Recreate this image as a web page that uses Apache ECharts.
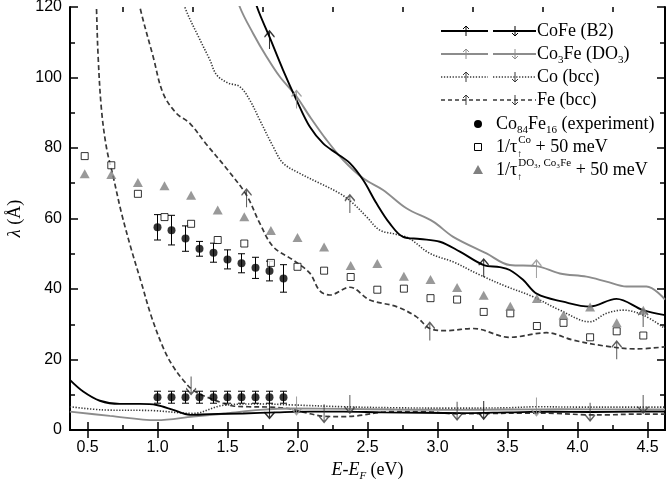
<!DOCTYPE html>
<html><head><meta charset="utf-8">
<script src="https://cdn.jsdelivr.net/npm/echarts@6/dist/echarts.min.js"></script>
<style>html,body{margin:0;padding:0;background:#fff}#c{width:666px;height:485px}</style>
</head><body><div id="c"></div>
<script>
// ---------- tick labels ----------
const xMajor = [0.5, 1.0, 1.5, 2.0, 2.5, 3.0, 3.5, 4.0, 4.5];
const xMinor = [0.75, 1.25, 1.75, 2.25, 2.75, 3.25, 3.75, 4.25];

// ---------- theory curves [E-EF (eV), lambda (A)] ----------
const cofeUp = [[1.69,124],[1.711,120],[1.80,111.5],[1.897,102.1],[1.993,93.6],[2.088,86.0],[2.183,81.3],[2.278,78.5],[2.374,75.7],[2.469,70.9],[2.564,64.3],[2.659,58.6],[2.754,54.8],[2.874,54.2],[3.017,53.4],[3.16,50.6],[3.33,46.8],[3.445,46.2],[3.516,45.4],[3.611,42.6],[3.711,38.6],[3.897,36.4],[4.088,35.0],[4.278,37.2],[4.469,34.0],[4.625,32.6]];
const cofeDn = [[0.374,14.2],[0.469,10.9],[0.588,8.3],[0.731,7.4],[0.874,7.4],[0.993,7.1],[1.112,5.7],[1.231,4.3],[1.373,4.5],[1.611,4.7],[1.85,5.0],[2.088,5.2],[2.326,5.2],[2.6,5.0],[2.9,4.9],[3.2,4.8],[3.5,5.0],[3.8,5.2],[4.1,5.1],[4.4,5.2],[4.625,5.2]];
const co3feUp = [[1.57,124],[1.588,120],[1.683,112.5],[1.779,105.9],[1.874,100.2],[1.993,94.6],[2.088,88.9],[2.207,82.3],[2.326,76.6],[2.469,71.4],[2.611,68.1],[2.778,62.9],[2.969,59.1],[3.112,54.8],[3.35,50.1],[3.516,46.8],[3.707,46.5],[3.874,44.4],[4.064,43.5],[4.207,42.1],[4.35,40.7],[4.493,40.7],[4.625,37.0]];
const co3feDn = [[0.374,5.2],[0.66,4.0],[0.993,2.8],[1.254,3.8],[1.493,4.7],[1.731,5.7],[1.969,6.1],[2.326,6.0],[2.7,5.8],[3.1,5.7],[3.5,5.8],[3.9,5.9],[4.3,5.8],[4.625,5.8]];
const coUp = [[1.18,124],[1.195,120],[1.302,110.8],[1.374,105.0],[1.421,100.8],[1.50,98.5],[1.588,97.4],[1.659,93.6],[1.731,87.9],[1.826,80.4],[1.897,75.7],[2.016,72.8],[2.159,70.0],[2.302,67.1],[2.397,64.3],[2.493,60.5],[2.588,56.7],[2.707,55.5],[2.80,54.3],[2.945,50.1],[3.111,47.7],[3.302,44.0],[3.493,40.7],[3.683,37.8],[3.874,34.0],[4.088,30.7],[4.207,33.1],[4.326,34.0],[4.469,32.6],[4.625,28.8]];
const coDn = [[0.374,6.6],[0.612,5.7],[0.969,5.5],[1.254,4.7],[1.469,7.0],[1.731,7.4],[1.969,7.1],[2.326,6.6],[2.7,6.3],[3.1,6.2],[3.5,6.3],[3.71,6.6],[4.0,6.5],[4.3,6.5],[4.625,6.5]];
const feUp = [[0.862,124],[0.874,120],[0.969,105.9],[1.04,95.5],[1.136,89.8],[1.231,87.0],[1.344,81.3],[1.493,74.2],[1.636,66.6],[1.731,58.6],[1.826,52.0],[1.969,48.2],[2.088,44.5],[2.159,39.5],[2.231,38.3],[2.374,40.5],[2.516,36.9],[2.707,35.0],[2.85,32.1],[2.945,28.8],[3.064,28.2],[3.254,28.8],[3.516,26.3],[3.779,27.6],[3.969,25.5],[4.183,23.9],[4.421,23.0],[4.625,23.6]];
const feDn = [[0.562,124],[0.564,120],[0.576,105.9],[0.60,90.8],[0.636,80.0],[0.683,72.0],[0.743,61.5],[0.814,51.1],[0.886,41.6],[0.957,32.1],[1.05,22.5],[1.12,17.5],[1.183,14.2],[1.254,11.3],[1.373,9.0],[1.469,7.6],[1.54,6.8],[1.65,6.6],[1.80,6.5],[1.95,6.0],[2.05,5.0],[2.19,3.9],[2.32,3.8],[2.42,4.0],[2.66,5.2],[2.897,5.2],[3.14,4.6],[3.373,4.7],[3.60,4.8],[3.85,4.7],[4.09,4.3],[4.207,4.3],[4.40,4.5],[4.625,4.5]];

// ---------- spin arrows placed on the curves ----------
const cofeUpArrows = [[1.80,111.5],[3.33,46.8]];
const cofeDnArrows = [[1.80,5.0],[3.33,4.8]];
const co3feUpArrows = [[1.993,94.6],[3.707,46.5]];
const co3feDnArrows = [[1.993,6.1],[3.707,5.8]];
const coUpArrows = [[2.374,65.0],[4.469,32.6]];
const coDnArrows = [[2.374,6.5],[4.469,6.5]];
const feUpArrows = [[1.636,66.6],[2.945,28.8],[4.28,23.5]];
const feDnArrows = [[1.24,11.8],[2.19,3.9],[3.14,4.6],[4.09,4.3]];

// ---------- experiment Co84Fe16 ----------
const expX = [1.0,1.1,1.2,1.3,1.4,1.5,1.6,1.7,1.8,1.9];
const expUpY = [57.5,56.7,54.3,51.4,50.3,48.4,47.3,46.0,45.1,43.0];
const expUpErr = [3.6,4.2,3.6,2.1,2.7,2.7,2.7,3.0,2.8,3.9];
const expDnY = [9.3,9.3,9.3,9.3,9.3,9.3,9.3,9.3,9.3,9.3];
const expDnErr = [1.7,1.7,1.7,1.7,1.7,1.7,1.7,1.7,1.7,1.7];

// ---------- 1/tau + 50 meV ----------
const tauX = [0.48,0.67,0.86,1.05,1.24,1.43,1.62,1.81,2.00,2.19,2.38,2.57,2.76,2.95,3.14,3.33,3.52,3.71,3.90,4.09,4.28,4.47];
const tauCoY = [77.7,75.1,67.0,60.4,58.5,53.9,52.9,47.4,46.3,45.2,43.4,39.8,40.1,37.4,37.0,33.5,33.1,29.5,30.4,26.3,28.0,26.8];
const tauDO3Y = [72.7,72.5,70.2,69.3,66.6,62.4,60.5,56.6,54.6,51.9,46.7,47.2,43.6,42.7,40.4,38.2,35.1,37.3,32.6,34.9,30.4,34.0];

// ---------- legend texts ----------
const legendLineTexts = ['{n|CoFe (B2)}', '{n|Co}{b|3}{n|Fe (DO}{b|3}{n|)}', '{n|Co (bcc)}', '{n|Fe (bcc)}'];
const legendSymTexts = ['{n|Co}{b|84}{n|Fe}{b|16}{n| (experiment)}', '{n|1/τ}{a|↑}{t|Co}{n| + 50 meV}', '{n|1/τ}{a|↑}{t|DO₃, Co₃Fe}{n| + 50 meV}'];

// ---------- styles ----------
const BLACK = '#000', GRAY = '#8c8c8c', DARK = '#383838';
const SERIF = 'Liberation Serif, Times New Roman, serif';
const SANS = 'Liberation Sans, Arial, sans-serif';
const UP = 'path://M0,6L5,0L10,6M5,0L5,18';
const DOWN = 'path://M0,12L5,18L10,12M5,18L5,0';

const rich = {
  n: {fontFamily: SERIF, fontSize: 18, lineHeight: 24, verticalAlign: 'middle', color: '#000'},
  i: {fontFamily: SERIF, fontSize: 18, lineHeight: 24, verticalAlign: 'middle', fontStyle: 'italic', color: '#000'},
  b: {fontFamily: SERIF, fontSize: 11, lineHeight: 12, verticalAlign: 'bottom', color: '#000'},
  s: {fontFamily: SERIF, fontSize: 11, lineHeight: 12, verticalAlign: 'bottom', fontStyle: 'italic', color: '#000'},
  a: {fontFamily: SERIF, fontSize: 10, lineHeight: 11, verticalAlign: 'bottom', width: 1, color: '#000'},
  t: {fontFamily: SERIF, fontSize: 11, lineHeight: 12, verticalAlign: 'top', color: '#000'}
};

function curve(data, color, width, dash) {
  return {type: 'line', data: data, smooth: 0.35, showSymbol: false, symbol: 'none', silent: true, z: 3,
    lineStyle: {color: color, width: width, type: dash || 'solid', cap: 'butt'}};
}
function arrows(data, up, color) {
  return {type: 'scatter', data: data, symbol: up ? UP : DOWN, symbolSize: [10, 18],
    symbolOffset: [0, up ? 3 : -3], silent: true, z: 4,
    itemStyle: {color: 'rgba(0,0,0,0)', borderColor: color, borderWidth: 1.4}};
}
function errBars(ys, errs) {
  return {type: 'custom', silent: true, z: 5,
    data: expX.map((x, i) => [x, ys[i], errs[i]]),
    encode: {x: 0, y: 1},
    renderItem: function (params, api) {
      const x = api.value(0), y = api.value(1), e = api.value(2);
      const a = api.coord([x, y + e]), b = api.coord([x, y - e]);
      const hw = 3.5, st = {stroke: '#000', lineWidth: 1};
      return {type: 'group', children: [
        {type: 'line', shape: {x1: a[0], y1: a[1], x2: b[0], y2: b[1]}, style: st},
        {type: 'line', shape: {x1: a[0] - hw, y1: a[1], x2: a[0] + hw, y2: a[1]}, style: st},
        {type: 'line', shape: {x1: b[0] - hw, y1: b[1], x2: b[0] + hw, y2: b[1]}, style: st}
      ]};
    }};
}

// ---------- legend (drawn with graphic) ----------
const legendLineStyles = [
  {c: BLACK, w: 1.8, d: null},
  {c: GRAY, w: 1.8, d: null},
  {c: DARK, w: 1.6, d: [1.3, 1.6]},
  {c: DARK, w: 1.6, d: [4, 3]}
];
const legendRowY = [31, 54, 77, 100, 124, 147, 170];
const graphics = [];
legendLineStyles.forEach((s, k) => {
  const y = legendRowY[k];
  const ls = {stroke: s.c, lineWidth: s.w, lineDash: s.d};
  graphics.push({type: 'line', shape: {x1: 441, y1: y, x2: 488, y2: y}, style: ls});
  graphics.push({type: 'line', shape: {x1: 493, y1: y, x2: 536, y2: y}, style: ls});
  const as = {stroke: s.c, lineWidth: 1, fill: null};
  graphics.push({type: 'line', shape: {x1: 466, y1: y - 5, x2: 466, y2: y + 5}, style: as});
  graphics.push({type: 'polyline', shape: {points: [[463, y - 2], [466, y - 5], [469, y - 2]]}, style: as});
  graphics.push({type: 'line', shape: {x1: 515, y1: y - 5, x2: 515, y2: y + 5}, style: as});
  graphics.push({type: 'polyline', shape: {points: [[512, y + 2], [515, y + 5], [518, y + 2]]}, style: as});
  graphics.push({type: 'text', x: 537, y: y, style: {text: legendLineTexts[k], rich: rich, fontFamily: SERIF, fontSize: 18, verticalAlign: 'middle', fill: '#000'}});
});
graphics.push({type: 'circle', shape: {cx: 478, cy: legendRowY[4], r: 4}, style: {fill: '#000'}});
graphics.push({type: 'rect', shape: {x: 474.5, y: legendRowY[5] - 3.5, width: 7, height: 7}, style: {fill: '#fff', stroke: '#000', lineWidth: 1}});
graphics.push({type: 'polygon', shape: {points: [[478, legendRowY[6] - 5], [473, legendRowY[6] + 4], [483, legendRowY[6] + 4]]}, style: {fill: '#808080'}});
legendSymTexts.forEach((t, k) => {
  graphics.push({type: 'text', x: 496, y: legendRowY[4 + k], style: {text: t, rich: rich, fontFamily: SERIF, fontSize: 18, verticalAlign: 'middle', fill: '#000'}});
});

// ---------- axes ----------
const axLine = {lineStyle: {color: '#000', width: 2}};
const xBase = {type: 'value', min: 0.375, max: 4.625, splitLine: {show: false}};
const tickSt = {color: '#000', width: 1.5};

const option = {
  animation: false,
  backgroundColor: '#fff',
  grid: [
    {left: 70, right: 1, top: 7, bottom: 55, containLabel: false, outerBoundsMode: 'none'},
    {left: 70, right: 1, top: 7, bottom: 55, containLabel: false, outerBoundsMode: 'none'}
  ],
  xAxis: [
    Object.assign({}, xBase, {gridIndex: 0, position: 'bottom', axisLine: axLine,
      axisTick: {inside: true, length: 8, customValues: xMajor, lineStyle: tickSt},
      axisLabel: {customValues: xMajor, formatter: v => v.toFixed(1), margin: 10, fontSize: 16, color: '#000', fontFamily: SANS},
      name: '{i|E}{n|-}{i|E}{s|F}{n| (eV)}', nameLocation: 'middle', nameGap: 25,
      nameTextStyle: {rich: rich, fontFamily: SERIF, fontSize: 18}}),
    Object.assign({}, xBase, {gridIndex: 0, position: 'top', axisLine: axLine,
      axisTick: {inside: true, length: 8, customValues: xMajor, lineStyle: tickSt},
      axisLabel: {show: false}}),
    Object.assign({}, xBase, {gridIndex: 1, position: 'bottom', axisLine: {show: false},
      axisTick: {inside: true, length: 5, customValues: xMinor, lineStyle: tickSt},
      axisLabel: {show: false}}),
    Object.assign({}, xBase, {gridIndex: 1, position: 'top', axisLine: {show: false},
      axisTick: {inside: true, length: 5, customValues: xMinor, lineStyle: tickSt},
      axisLabel: {show: false}})
  ],
  yAxis: [
    {type: 'value', gridIndex: 0, position: 'left', min: 0, max: 120, interval: 20, splitLine: {show: false},
      axisLine: axLine, axisTick: {inside: true, length: 8, lineStyle: tickSt},
      minorTick: {show: true, splitNumber: 2, length: 5, lineStyle: tickSt},
      axisLabel: {margin: 8, fontSize: 16, color: '#000', fontFamily: SANS},
      name: '{i|λ}{n| (Å)}', nameLocation: 'middle', nameGap: 34,
      nameTextStyle: {rich: rich, fontFamily: SERIF, fontSize: 18}},
    {type: 'value', gridIndex: 0, position: 'right', min: 0, max: 120, interval: 20, splitLine: {show: false},
      axisLine: axLine, axisTick: {inside: true, length: 8, lineStyle: tickSt},
      minorTick: {show: true, splitNumber: 2, length: 5, lineStyle: tickSt},
      axisLabel: {show: false}},
    {type: 'value', gridIndex: 1, min: 0, max: 120, show: false}
  ],
  graphic: graphics,
  series: [
    curve(feDn, DARK, 1.7, [5, 3]),
    curve(feUp, DARK, 1.7, [5, 3]),
    curve(coDn, DARK, 1.6, [1.3, 1.6]),
    curve(coUp, DARK, 1.6, [1.3, 1.6]),
    curve(co3feDn, GRAY, 1.9),
    curve(co3feUp, GRAY, 1.9),
    curve(cofeDn, BLACK, 1.9),
    curve(cofeUp, BLACK, 1.9),
    arrows(cofeUpArrows, true, BLACK),
    arrows(cofeDnArrows, false, BLACK),
    arrows(co3feUpArrows, true, GRAY),
    arrows(co3feDnArrows, false, GRAY),
    arrows(coUpArrows, true, DARK),
    arrows(coDnArrows, false, DARK),
    arrows(feUpArrows, true, DARK),
    arrows(feDnArrows, false, DARK),
    {type: 'scatter', data: tauX.map((x, i) => [x, tauCoY[i]]), symbol: 'rect', symbolSize: 7, silent: true, z: 6,
      itemStyle: {color: '#fff', borderColor: '#000', borderWidth: 1}},
    {type: 'scatter', data: tauX.map((x, i) => [x, tauDO3Y[i]]), symbol: 'triangle', symbolSize: [10, 9], silent: true, z: 6,
      itemStyle: {color: '#808080'}},
    errBars(expUpY, expUpErr),
    errBars(expDnY, expDnErr),
    {type: 'scatter', data: expX.map((x, i) => [x, expUpY[i]]), symbol: 'circle', symbolSize: 8, silent: true, z: 7,
      itemStyle: {color: '#000'}},
    {type: 'scatter', data: expX.map((x, i) => [x, expDnY[i]]), symbol: 'circle', symbolSize: 8, silent: true, z: 7,
      itemStyle: {color: '#000'}}
  ]
};
const chart = echarts.init(document.getElementById('c'), null, {renderer: 'canvas'});
chart.setOption(option);
</script>
</body></html>
